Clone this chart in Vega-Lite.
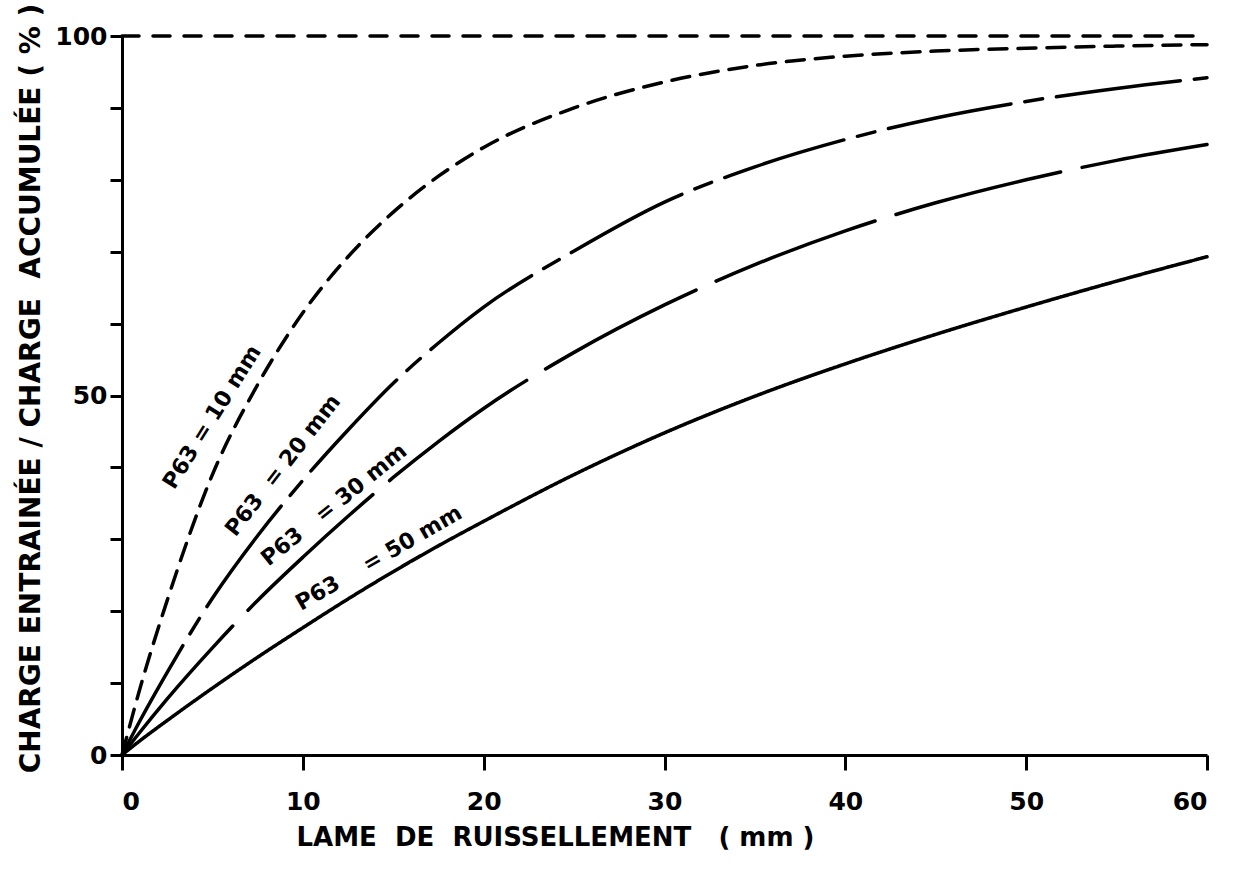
{
  "$schema": "https://vega.github.io/schema/vega-lite/v6.json",
  "width": 1085,
  "height": 719,
  "autosize": {"type": "none"},
  "padding": {"left": 122, "top": 36, "right": 38, "bottom": 116},
  "background": "white",
  "config": {
    "view": {"stroke": null},
    "font": "DejaVu Sans"
  },
  "datasets": {
    "curves": [
      {"series": "100 %", "x": 0, "y": 100},
      {"series": "100 %", "x": 60, "y": 100},
      {"series": "P63 = 10 mm", "x": 0, "y": 0},
      {"series": "P63 = 10 mm", "x": 1, "y": 9.3},
      {"series": "P63 = 10 mm", "x": 2.5, "y": 21.5},
      {"series": "P63 = 10 mm", "x": 5, "y": 39},
      {"series": "P63 = 10 mm", "x": 7.5, "y": 51.5},
      {"series": "P63 = 10 mm", "x": 10, "y": 61.5},
      {"series": "P63 = 10 mm", "x": 12.5, "y": 69.3},
      {"series": "P63 = 10 mm", "x": 15, "y": 75.5},
      {"series": "P63 = 10 mm", "x": 17.5, "y": 80.5},
      {"series": "P63 = 10 mm", "x": 20, "y": 84.5},
      {"series": "P63 = 10 mm", "x": 25, "y": 90},
      {"series": "P63 = 10 mm", "x": 30, "y": 93.6},
      {"series": "P63 = 10 mm", "x": 35, "y": 95.9},
      {"series": "P63 = 10 mm", "x": 40, "y": 97.2},
      {"series": "P63 = 10 mm", "x": 45, "y": 97.9},
      {"series": "P63 = 10 mm", "x": 50, "y": 98.3},
      {"series": "P63 = 10 mm", "x": 55, "y": 98.6},
      {"series": "P63 = 10 mm", "x": 60, "y": 98.8},
      {"series": "P63 = 20 mm", "x": 0, "y": 0},
      {"series": "P63 = 20 mm", "x": 1, "y": 4.8},
      {"series": "P63 = 20 mm", "x": 2.5, "y": 11.5},
      {"series": "P63 = 20 mm", "x": 5, "y": 21.8},
      {"series": "P63 = 20 mm", "x": 7.5, "y": 30.5},
      {"series": "P63 = 20 mm", "x": 10, "y": 38.2},
      {"series": "P63 = 20 mm", "x": 12.5, "y": 45.2},
      {"series": "P63 = 20 mm", "x": 15, "y": 51.7},
      {"series": "P63 = 20 mm", "x": 17.5, "y": 57.3},
      {"series": "P63 = 20 mm", "x": 20, "y": 62.3},
      {"series": "P63 = 20 mm", "x": 25, "y": 70.1},
      {"series": "P63 = 20 mm", "x": 30, "y": 76.9},
      {"series": "P63 = 20 mm", "x": 35, "y": 81.8},
      {"series": "P63 = 20 mm", "x": 40, "y": 85.6},
      {"series": "P63 = 20 mm", "x": 45, "y": 88.6},
      {"series": "P63 = 20 mm", "x": 50, "y": 90.9},
      {"series": "P63 = 20 mm", "x": 55, "y": 92.7},
      {"series": "P63 = 20 mm", "x": 60, "y": 94.2},
      {"series": "P63 = 30 mm", "x": 0, "y": 0},
      {"series": "P63 = 30 mm", "x": 1, "y": 3.2},
      {"series": "P63 = 30 mm", "x": 2.5, "y": 7.8},
      {"series": "P63 = 30 mm", "x": 5, "y": 14.9},
      {"series": "P63 = 30 mm", "x": 7.5, "y": 21.5},
      {"series": "P63 = 30 mm", "x": 10, "y": 27.5},
      {"series": "P63 = 30 mm", "x": 12.5, "y": 33.2},
      {"series": "P63 = 30 mm", "x": 15, "y": 38.6},
      {"series": "P63 = 30 mm", "x": 17.5, "y": 43.6},
      {"series": "P63 = 30 mm", "x": 20, "y": 48.2},
      {"series": "P63 = 30 mm", "x": 25, "y": 56},
      {"series": "P63 = 30 mm", "x": 30, "y": 62.6},
      {"series": "P63 = 30 mm", "x": 35, "y": 68.2},
      {"series": "P63 = 30 mm", "x": 40, "y": 72.9},
      {"series": "P63 = 30 mm", "x": 45, "y": 76.8},
      {"series": "P63 = 30 mm", "x": 50, "y": 80},
      {"series": "P63 = 30 mm", "x": 55, "y": 82.7},
      {"series": "P63 = 30 mm", "x": 60, "y": 84.9},
      {"series": "P63 = 50 mm", "x": 0, "y": 0},
      {"series": "P63 = 50 mm", "x": 1, "y": 2},
      {"series": "P63 = 50 mm", "x": 2.5, "y": 4.8},
      {"series": "P63 = 50 mm", "x": 5, "y": 9.3},
      {"series": "P63 = 50 mm", "x": 7.5, "y": 13.6},
      {"series": "P63 = 50 mm", "x": 10, "y": 17.7},
      {"series": "P63 = 50 mm", "x": 12.5, "y": 21.7},
      {"series": "P63 = 50 mm", "x": 15, "y": 25.5},
      {"series": "P63 = 50 mm", "x": 17.5, "y": 29.1},
      {"series": "P63 = 50 mm", "x": 20, "y": 32.5},
      {"series": "P63 = 50 mm", "x": 25, "y": 39},
      {"series": "P63 = 50 mm", "x": 30, "y": 44.8},
      {"series": "P63 = 50 mm", "x": 35, "y": 49.9},
      {"series": "P63 = 50 mm", "x": 40, "y": 54.4},
      {"series": "P63 = 50 mm", "x": 45, "y": 58.5},
      {"series": "P63 = 50 mm", "x": 50, "y": 62.3},
      {"series": "P63 = 50 mm", "x": 55, "y": 65.9},
      {"series": "P63 = 50 mm", "x": 60, "y": 69.3}
    ],
    "labels": [
      {"series": "P63 = 10 mm", "text": "P63 = 10 mm", "x": 4.98, "y": 47.0},
      {"series": "P63 = 20 mm", "text": "P63\u00a0\u00a0= 20 mm", "x": 8.9, "y": 40.3},
      {"series": "P63 = 30 mm", "text": "P63\u00a0\u00a0\u00a0= 30 mm", "x": 11.72, "y": 34.8},
      {"series": "P63 = 50 mm", "text": "P63\u00a0\u00a0\u00a0\u00a0= 50 mm", "x": 14.2, "y": 27.4}
    ]
  },
  "layer": [
    {
      "data": {"name": "curves"},
      "mark": {"type": "line", "color": "black", "strokeWidth": 3.5, "interpolate": "monotone", "strokeCap": "round", "clip": false},
      "encoding": {
        "x": {
          "field": "x", "type": "quantitative",
          "scale": {"domain": [0, 60], "nice": false, "zero": false},
          "axis": {
            "title": "LAME\u00a0\u00a0DE\u00a0\u00a0RUISSELLEMENT\u00a0\u00a0\u00a0( mm )",
            "values": [0, 10, 20, 30, 40, 50, 60],
            "grid": false,
            "domainColor": "black", "domainWidth": 3,
            "tickColor": "black", "tickWidth": 3, "tickSize": 15,
            "labelFont": "DejaVu Sans", "labelFontWeight": "bold", "labelFontSize": 25, "labelColor": "black",
            "labelPadding": 19,
            "titleFont": "DejaVu Sans", "titleFontWeight": "bold", "titleFontSize": 26, "titleColor": "black",
            "titlePadding": 10,
            "titleX": 433, "titleAlign": "center"
          }
        },
        "y": {
          "field": "y", "type": "quantitative",
          "scale": {"domain": [0, 100], "nice": false},
          "axis": {
            "title": "CHARGE ENTRAINÉE / CHARGE\u00a0\u00a0ACCUMULÉE ( % )",
            "values": [0, 10, 20, 30, 40, 50, 60, 70, 80, 90, 100],
            "labelExpr": "datum.value % 50 === 0 ? datum.label : ''",
            "grid": false,
            "domainColor": "black", "domainWidth": 3,
            "tickColor": "black", "tickWidth": 3, "tickSize": 12,
            "labelFont": "DejaVu Sans", "labelFontWeight": "bold", "labelFontSize": 25, "labelColor": "black",
            "labelPadding": 3,
            "titleFont": "DejaVu Sans", "titleFontWeight": "bold", "titleFontSize": 28, "titleColor": "black",
            "titlePadding": 9,
            "titleY": 352
          }
        },
        "detail": {"field": "series"},
        "strokeDash": {
          "field": "series", "type": "nominal",
          "scale": {
            "domain": ["100 %", "P63 = 10 mm", "P63 = 20 mm", "P63 = 30 mm", "P63 = 50 mm"],
            "range": [[17, 14], [18, 11], [125, 14, 18, 14], [170, 22], [1, 0]]
          },
          "legend": null
        }
      }
    },
    {
      "data": {"name": "labels"},
      "transform": [{"filter": "datum.series === 'P63 = 10 mm'"}],
      "mark": {"type": "text", "font": "DejaVu Sans", "fontWeight": "bold", "fontSize": 22, "angle": -58, "align": "center", "baseline": "middle", "color": "black"},
      "encoding": {"x": {"field": "x", "type": "quantitative"}, "y": {"field": "y", "type": "quantitative"}, "text": {"field": "text"}}
    },
    {
      "data": {"name": "labels"},
      "transform": [{"filter": "datum.series === 'P63 = 20 mm'"}],
      "mark": {"type": "text", "font": "DejaVu Sans", "fontWeight": "bold", "fontSize": 22, "angle": -52, "align": "center", "baseline": "middle", "color": "black"},
      "encoding": {"x": {"field": "x", "type": "quantitative"}, "y": {"field": "y", "type": "quantitative"}, "text": {"field": "text"}}
    },
    {
      "data": {"name": "labels"},
      "transform": [{"filter": "datum.series === 'P63 = 30 mm'"}],
      "mark": {"type": "text", "font": "DejaVu Sans", "fontWeight": "bold", "fontSize": 22, "angle": -39, "align": "center", "baseline": "middle", "color": "black"},
      "encoding": {"x": {"field": "x", "type": "quantitative"}, "y": {"field": "y", "type": "quantitative"}, "text": {"field": "text"}}
    },
    {
      "data": {"name": "labels"},
      "transform": [{"filter": "datum.series === 'P63 = 50 mm'"}],
      "mark": {"type": "text", "font": "DejaVu Sans", "fontWeight": "bold", "fontSize": 22, "angle": -30, "align": "center", "baseline": "middle", "color": "black"},
      "encoding": {"x": {"field": "x", "type": "quantitative"}, "y": {"field": "y", "type": "quantitative"}, "text": {"field": "text"}}
    }
  ]
}
